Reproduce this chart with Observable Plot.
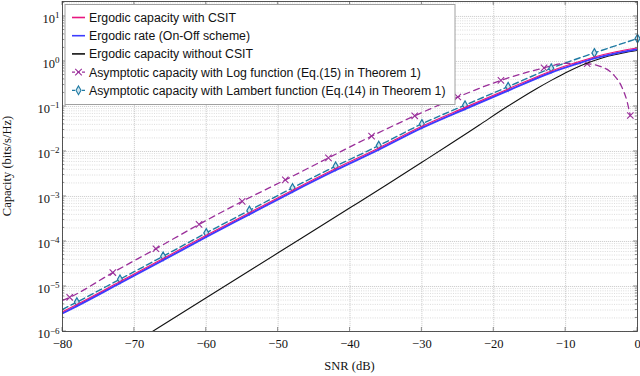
<!DOCTYPE html>
<html><head><meta charset="utf-8">
<script src="https://cdn.jsdelivr.net/npm/d3@7"></script>
<script src="https://cdn.jsdelivr.net/npm/@observablehq/plot@0.6"></script>
<style>body{margin:0;background:#fff} svg{display:block}</style>
</head><body><div id="chart"></div>
<script>
// ---- data ----
const snrCsit = [-80,-78,-72,-66,-60,-54,-48,-42,-36,-30,-24,-18,-12,-9,-6,-3,0];
const capCsit = [2.75e-6,4.0e-6,1.29e-5,4.17e-5,1.38e-4,4.37e-4,1.38e-3,4.17e-3,1.20e-2,3.63e-2,9.55e-2,0.245,0.617,0.90,1.26,1.64,2.0];
const snrOnOff = [-80,-78,-72,-66,-60,-54,-48,-42,-36,-30,-24,-18,-12,-9,-6,-3,0];
const capOnOff = [2.53e-6,3.68e-6,1.19e-5,3.84e-5,1.27e-4,4.02e-4,1.27e-3,3.84e-3,1.10e-2,3.34e-2,8.8e-2,0.226,0.57,0.83,1.17,1.53,1.88];
const snrNoCsit = [-68,-60,-50,-40,-35,-30,-26,-22,-18,-14,-12,-10,-8,-6,-4,-2,0];
const capNoCsit = [8.9e-7,5.6e-6,5.6e-5,5.6e-4,1.78e-3,5.75e-3,1.48e-2,3.89e-2,0.102,0.251,0.380,0.562,0.794,1.05,1.32,1.55,1.76];
const snrLog = [-80,-79,-73,-67,-61,-55,-49,-43,-37,-31,-25,-19,-13,-10,-7,-5.2,-3.3,-2.2,-1.5,-1];
const capLog = [4.9e-6,5.75e-6,2.04e-5,6.9e-5,2.4e-4,7.8e-4,2.34e-3,7.2e-3,2.19e-2,6.2e-2,0.162,0.38,0.72,0.91,0.89,0.78,0.50,0.275,0.138,0.063];
const snrLogMarks = [-79,-73,-67,-61,-55,-49,-43,-37,-31,-25,-19,-13,-7,-1];
const snrLambert = [-80,-78,-72,-66,-60,-54,-48,-42,-36,-30,-24,-18,-12,-6,0];
const capLambert = [3.1e-6,4.5e-6,1.45e-5,4.7e-5,1.55e-4,4.9e-4,1.55e-3,4.7e-3,1.35e-2,4.1e-2,0.107,0.275,0.71,1.55,3.24];
const snrLambertMarks = [-78,-72,-66,-60,-54,-48,-42,-36,-30,-24,-18,-12,-6,0];

const xTicks = [-80,-70,-60,-50,-40,-30,-20,-10,0];
const yTicks = [1e-6,1e-5,1e-4,1e-3,1e-2,1e-1,1,10];
const yDomain = [1e-6, 21.5];
const seriesNames = [
  "Ergodic capacity with CSIT",
  "Ergodic rate (On-Off scheme)",
  "Ergodic capacity without CSIT",
  "Asymptotic capacity with Log function (Eq.(15) in Theorem 1)",
  "Asymptotic capacity with Lambert function (Eq.(14) in Theorem 1)"
];
const colors = ["#e8177f", "#3c3cff", "#111111", "#9a2f9a", "#1f7aa3"];

// ---- helpers ----
const rows = (xs, ys) => xs.map((x, i) => ({x, y: ys[i]}));
const pick = (xs, ys, keep) => rows(xs, ys).filter(d => keep.includes(d.x));
const minorY = [];
for (const d of yTicks) for (let m = 2; m <= 9; m++) { const v = d * m; if (v < yDomain[1]) minorY.push(v); }
const fmtX = d => d < 0 ? "\u2212" + Math.abs(d) : String(d);

const plot = Plot.plot({
  width: 640, height: 376,
  marginLeft: 62, marginRight: 3, marginTop: 1, marginBottom: 45,
  style: {fontFamily: "'Liberation Serif', 'DejaVu Serif', serif", fontSize: "12.5px", background: "#fff"},
  x: {domain: [-80, 0], label: null},
  y: {type: "log", domain: yDomain, label: null},
  marks: [
    Plot.gridY(minorY, {stroke: "#b8b8b8", strokeOpacity: 1, strokeWidth: 0.5, strokeDasharray: "1,1.3"}),
    Plot.gridY(yTicks, {stroke: "#b0b0b0", strokeOpacity: 1, strokeWidth: 0.6, strokeDasharray: "1.2,0.8"}),
    Plot.gridX(xTicks, {stroke: "#b0b0b0", strokeOpacity: 1, strokeWidth: 0.6, strokeDasharray: "1.2,0.8"}),
    Plot.axisX(xTicks, {tickSize: 0, tickPadding: 8, tickFormat: fmtX, fill: "#111"}),
    Plot.axisY(yTicks, {tickSize: 0, tickPadding: 3, tickFormat: d => "10^" + Math.round(Math.log10(d)), fill: "#111"}),
    Plot.line(rows(snrLambert, capLambert), {x: "x", y: "y", stroke: colors[4], strokeWidth: 1.4, strokeDasharray: "6,3.5", curve: "monotone-x", clip: true}),
    Plot.dot(pick(snrLambert, capLambert, snrLambertMarks), {x: "x", y: "y", symbol: "diamond", r: 2.6, stroke: colors[4], fill: "#cfe4ee", strokeWidth: 1.2}),
    Plot.line(rows(snrLog, capLog), {x: "x", y: "y", stroke: colors[3], strokeWidth: 1.3, strokeDasharray: "6,4.5", curve: "monotone-x", clip: true}),
    Plot.dot(pick(snrLog, capLog, snrLogMarks), {x: "x", y: "y", symbol: "times", r: 3, stroke: colors[3], strokeWidth: 1.1}),
    Plot.line(rows(snrNoCsit, capNoCsit), {x: "x", y: "y", stroke: colors[2], strokeWidth: 1.1, curve: "monotone-x", clip: true}),
    Plot.line(rows(snrOnOff, capOnOff), {x: "x", y: "y", stroke: colors[1], strokeWidth: 2, curve: "monotone-x", clip: true}),
    Plot.line(rows(snrCsit, capCsit), {x: "x", y: "y", stroke: colors[0], strokeWidth: 1.1, curve: "monotone-x", clip: true}),
    Plot.frame({stroke: "#444", strokeWidth: 0.9})
  ]
});

const svg = d3.select(plot);
const xs = plot.scale("x"), ys = plot.scale("y");
const [X0, X1] = xs.range, [Y0, Y1] = ys.range; // Y0 bottom, Y1 top

// y tick labels with superscript exponents
svg.selectAll('g[aria-label="y-axis tick label"] text').each(function() {
  const t = d3.select(this);
  const e = t.text().split("^")[1].replace("-", "\u2212");
  t.text("").attr("y", "0.52em");
  t.append("tspan").text("10");
  t.append("tspan").attr("dy", "-0.5em").attr("font-size", "9px").text(e);
});

// inward ticks on all four sides
const tg = svg.append("g").attr("stroke", "#444").attr("stroke-width", 0.6);
for (const v of xTicks) {
  const px = xs.apply(v);
  tg.append("line").attr("x1", px).attr("x2", px).attr("y1", Y0).attr("y2", Y0 - 4);
  tg.append("line").attr("x1", px).attr("x2", px).attr("y1", Y1).attr("y2", Y1 + 4);
}
for (const v of yTicks) {
  const py = ys.apply(v);
  tg.append("line").attr("x1", X0).attr("x2", X0 + 4).attr("y1", py).attr("y2", py);
  tg.append("line").attr("x1", X1).attr("x2", X1 - 4).attr("y1", py).attr("y2", py);
}
for (const v of minorY) {
  const py = ys.apply(v);
  tg.append("line").attr("x1", X0).attr("x2", X0 + 2.2).attr("y1", py).attr("y2", py);
  tg.append("line").attr("x1", X1).attr("x2", X1 - 2.2).attr("y1", py).attr("y2", py);
}

// axis titles
svg.append("text").attr("transform", `translate(11,${(Y0 + Y1) / 2}) rotate(-90)`)
  .attr("text-anchor", "middle").attr("font-size", "12.5px").attr("fill", "#111").text("Capacity (bits/s/Hz)");
svg.append("text").attr("x", (X0 + X1) / 2).attr("y", 370)
  .attr("text-anchor", "middle").attr("font-size", "12.5px").attr("fill", "#111").text("SNR (dB)");

// legend
const lg = svg.append("g").attr("font-family", "'Liberation Sans', Arial, sans-serif")
  .attr("font-size", "12.3px").attr("text-anchor", "start");
lg.append("rect").attr("x", 65).attr("y", 4.5).attr("width", 390).attr("height", 100)
  .attr("fill", "#fff").attr("stroke", "#a0a0a0").attr("stroke-width", 1);
const dashes = [null, null, null, "3,2", "3,2"];
const widths = [1.6, 1.6, 1.6, 1.3, 1.3];
seriesNames.forEach((name, i) => {
  const cy = 17.5 + i * 18.2;
  lg.append("line").attr("x1", 72).attr("x2", 85).attr("y1", cy).attr("y2", cy)
    .attr("stroke", colors[i]).attr("stroke-width", widths[i]).attr("stroke-dasharray", dashes[i]);
  if (i === 3) lg.append("path").attr("transform", `translate(78.5,${cy})`)
    .attr("d", d3.symbol(d3.symbolTimes, 30)()).attr("stroke", colors[i]).attr("stroke-width", 1.1).attr("fill", "none");
  if (i === 4) lg.append("path").attr("transform", `translate(78.5,${cy})`)
    .attr("d", d3.symbol(d3.symbolDiamond, 22)()).attr("stroke", colors[i]).attr("stroke-width", 1.1).attr("fill", "#cfe4ee");
  lg.append("text").attr("x", 89).attr("y", cy).attr("dy", "0.36em").attr("text-anchor", "start")
    .attr("fill", "#111").text(name);
});

document.getElementById("chart").appendChild(plot);
</script>
</body></html>
